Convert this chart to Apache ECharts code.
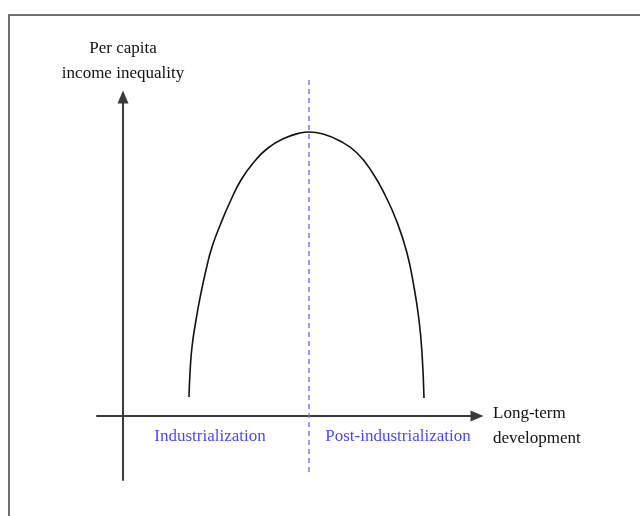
<!DOCTYPE html>
<html>
<head>
<meta charset="utf-8">
<script src="https://cdn.jsdelivr.net/npm/echarts@6/dist/echarts.min.js"></script>
<style>
html,body{margin:0;padding:0;background:#fff;}
#chart{width:640px;height:516px;}
</style>
</head>
<body>
<div id="chart"></div>
<script>
// Kuznets-type curve (schematic): x = long-term development, y = inequality
var curveX = [66, 67, 69, 73, 78, 83, 89, 98, 107, 118, 131, 145, 162, 177, 186, 200, 217, 234, 249, 262, 274, 284, 291, 296, 299, 301];
var curveY = [19, 43, 69, 96, 123, 146, 169, 193, 214, 236, 254, 268, 278, 283, 284, 282, 275, 263, 244, 221, 194, 163, 129, 96, 63, 18];
var dividerX = [186, 186];
var dividerY = [336, -57];
var phaseNames = ['Industrialization', 'Post-industrialization'];
var phaseX = [87, 275];
var phaseY = [-21, -21];
var yAxisName = 'Per capita\nincome inequality';
var xAxisName = 'Long-term\ndevelopment';

var serif = "'Liberation Serif','Times New Roman',serif";
var chart = echarts.init(document.getElementById('chart'), null, {renderer: 'canvas'});

function zip(a, b) { return a.map(function (v, i) { return [v, b[i]]; }); }

chart.setOption({
  animation: false,
  backgroundColor: '#fff',
  graphic: [{
    type: 'polyline',
    shape: {points: [[9, 530], [9, 15], [660, 15]]},
    style: {stroke: '#707070', lineWidth: 2, fill: null},
    silent: true
  }, {
    type: 'text', left: 493, top: 401,
    style: {text: xAxisName, font: '17px ' + serif, fill: '#111', lineHeight: 25},
    silent: true
  }],
  grid: {left: 97, right: 163, top: 97, bottom: 36},
  xAxis: {
    type: 'value', min: -26, max: 354,
    splitLine: {show: false}, axisTick: {show: false}, axisLabel: {show: false},
    axisLine: {show: true, onZero: true, symbol: ['none', 'triangle'], symbolSize: [11, 13],
      lineStyle: {color: '#3a3a3a', width: 2}}
  },
  yAxis: {
    type: 'value', min: -64, max: 319,
    splitLine: {show: false}, axisTick: {show: false}, axisLabel: {show: false},
    axisLine: {show: true, onZero: true, symbol: ['none', 'triangle'], symbolSize: [11, 13],
      lineStyle: {color: '#3a3a3a', width: 2}},
    name: yAxisName, nameLocation: 'end', nameGap: 11,
    nameTextStyle: {fontFamily: serif, fontSize: 17, color: '#111', lineHeight: 25, align: 'center'}
  },
  series: [
    {
      type: 'line', data: zip(curveX, curveY), smooth: 0.5, symbol: 'none',
      lineStyle: {color: '#111', width: 1.6}, silent: true
    },
    {
      type: 'line', data: zip(dividerX, dividerY), symbol: 'none', clip: false,
      lineStyle: {color: '#7878ff', width: 1.5, type: [5, 4]}, silent: true
    },
    {
      type: 'scatter', symbolSize: 0, silent: true,
      data: phaseNames.map(function (n, i) { return {name: n, value: [phaseX[i], phaseY[i]]}; }),
      label: {show: true, position: 'inside', formatter: '{b}', fontFamily: serif,
        fontSize: 17, color: '#1515ff'}
    }
  ]
});
</script>
</body>
</html>
